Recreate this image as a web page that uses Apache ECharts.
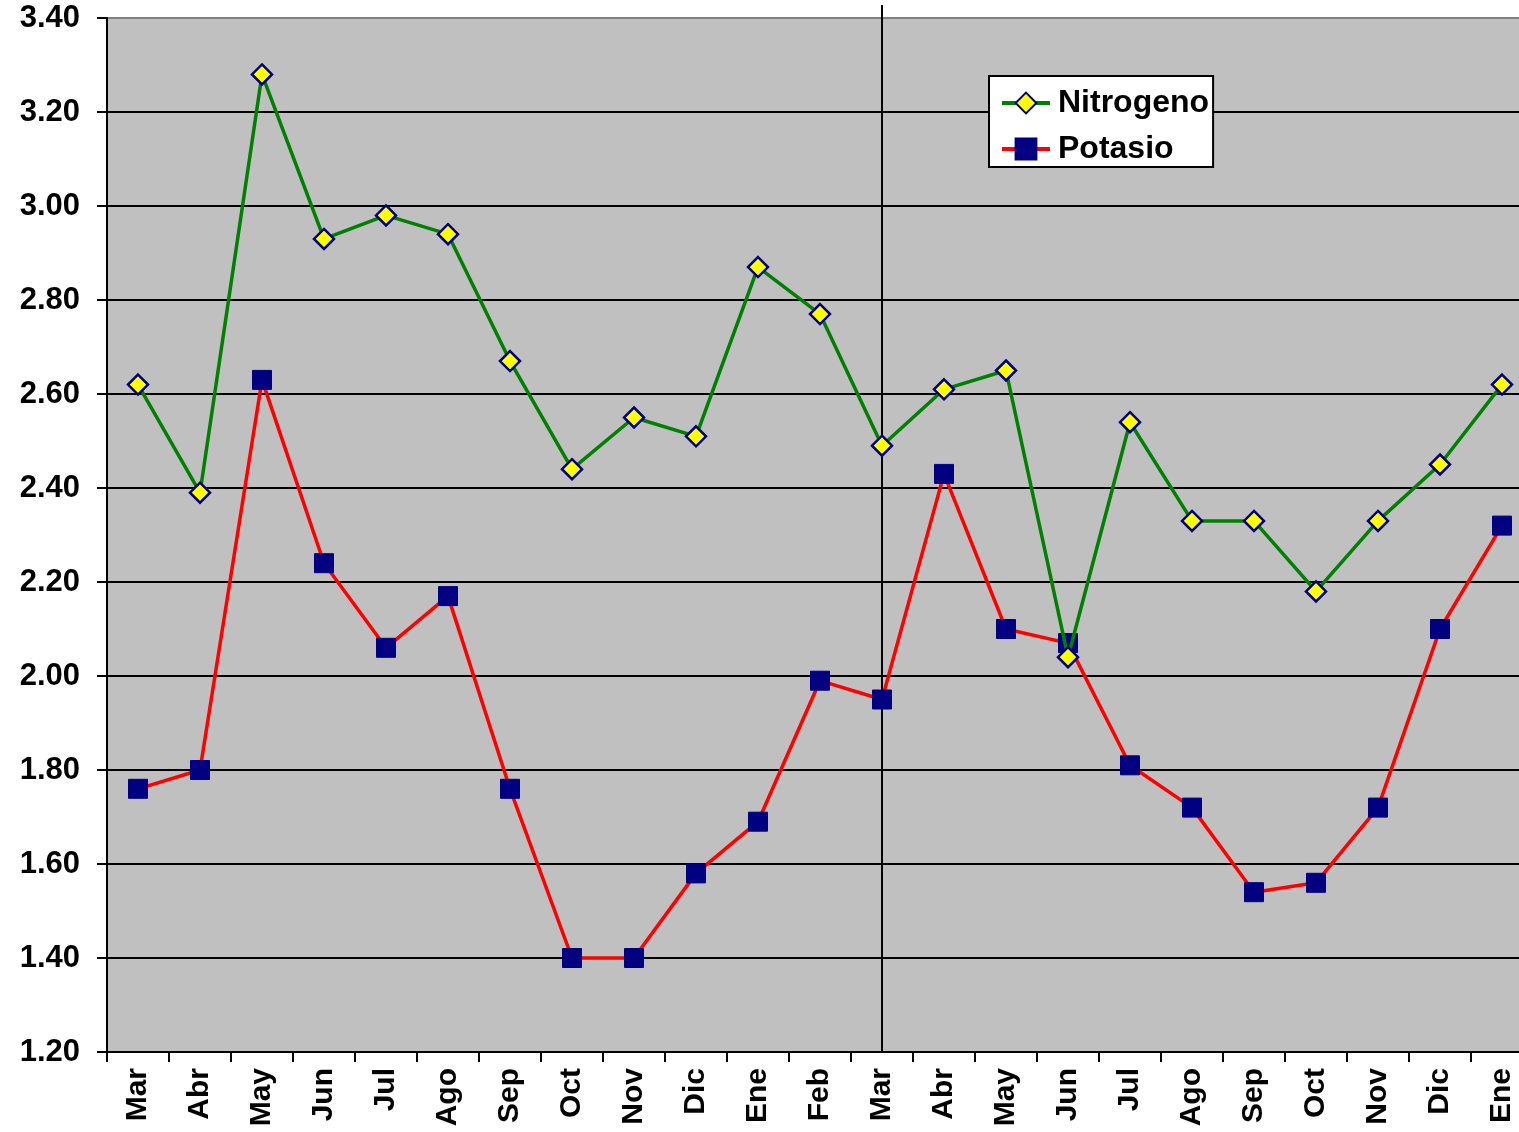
<!DOCTYPE html>
<html><head><meta charset="utf-8">
<script src="https://cdn.jsdelivr.net/npm/echarts@6/dist/echarts.min.js"></script>
<style>html,body{margin:0;padding:0;background:#fff;overflow:hidden;width:1519px;height:1132px}#c{width:1533px;height:1132px}</style>
</head><body><div id="c"></div>
<script>
const categories = ['Mar','Abr','May','Jun','Jul','Ago','Sep','Oct','Nov','Dic','Ene','Feb','Mar','Abr','May','Jun','Jul','Ago','Sep','Oct','Nov','Dic','Ene'];
const nitrogeno = [2.62,2.39,3.28,2.93,2.98,2.94,2.67,2.44,2.55,2.51,2.87,2.77,2.49,2.61,2.65,2.04,2.54,2.33,2.33,2.18,2.33,2.45,2.62];
const potasio = [1.76,1.80,2.63,2.24,2.06,2.17,1.76,1.40,1.40,1.58,1.69,1.99,1.95,2.43,2.10,2.07,1.81,1.72,1.54,1.56,1.72,2.10,2.32];
const yTicks = {min:1.2, max:3.4, interval:0.2};
const dividerIndex = 12;

const font = '"Liberation Sans", Arial, sans-serif';
const splitColors = [];
for (let i = 0; i < 11; i++) splitColors.push('#000');
splitColors.push('#808080');

const chart = echarts.init(document.getElementById('c'));
chart.setOption({
  animation:false,
  backgroundColor:'#ffffff',
  grid:{left:107, top:18, right:0, bottom:80, show:true, backgroundColor:'#c0c0c0', borderColor:'#808080', borderWidth:2, containLabel:false},
  legend:{
    orient:'vertical', left:989, top:76, width:224,
    backgroundColor:'#ffffff', borderColor:'#000', borderWidth:2,
    padding:[11,4,2,11], itemGap:14, itemWidth:48, itemHeight:26,
    lineStyle:{width:4},
    textStyle:{fontFamily:font, fontWeight:'bold', fontSize:32, color:'#000', padding:[0,0,0,3]},
    data:['Nitrogeno','Potasio']
  },
  xAxis:{
    type:'category', data:categories, boundaryGap:true,
    axisLine:{lineStyle:{color:'#000', width:2}},
    axisTick:{show:true, inside:false, length:10, alignWithLabel:false, interval:0, lineStyle:{color:'#000', width:2}},
    axisLabel:{rotate:90, interval:0, margin:16, fontFamily:font, fontWeight:'bold', fontSize:30, color:'#000'},
    splitLine:{show:false}
  },
  yAxis:{
    type:'value', min:yTicks.min, max:yTicks.max, interval:yTicks.interval,
    axisLine:{show:true, lineStyle:{color:'#000', width:2}},
    axisTick:{show:true, inside:false, length:10, lineStyle:{color:'#000', width:2}},
    axisLabel:{margin:27, fontFamily:font, fontWeight:'bold', fontSize:31, color:'#000', formatter:v=>v.toFixed(2)},
    splitLine:{show:true, lineStyle:{color:splitColors, width:2}}
  },
  series:[
    {name:'Nitrogeno', type:'line', data:nitrogeno, clip:false,
     lineStyle:{color:'#008000', width:3.5}, symbol:'diamond', symbolSize:20,
     itemStyle:{color:'#ffff00', borderColor:'#000080', borderWidth:2.5},
     z:3},
    {name:'Potasio', type:'line', data:potasio, clip:false,
     lineStyle:{color:'#ff0000', width:3.5}, symbol:'rect', symbolSize:19,
     itemStyle:{color:'#000080', borderColor:'#000080', borderWidth:1}, z:2}
  ]
});
const px = chart.convertToPixel({gridIndex:0}, [dividerIndex, yTicks.min]);
const pTop = chart.convertToPixel({gridIndex:0}, [dividerIndex, yTicks.max]);
chart.setOption({
  graphic:[{type:'line', z:1, zlevel:0,
    shape:{x1:px[0], y1:pTop[1]-13, x2:px[0], y2:px[1]},
    style:{stroke:'#000', lineWidth:2}, silent:true}]
});
</script></body></html>
